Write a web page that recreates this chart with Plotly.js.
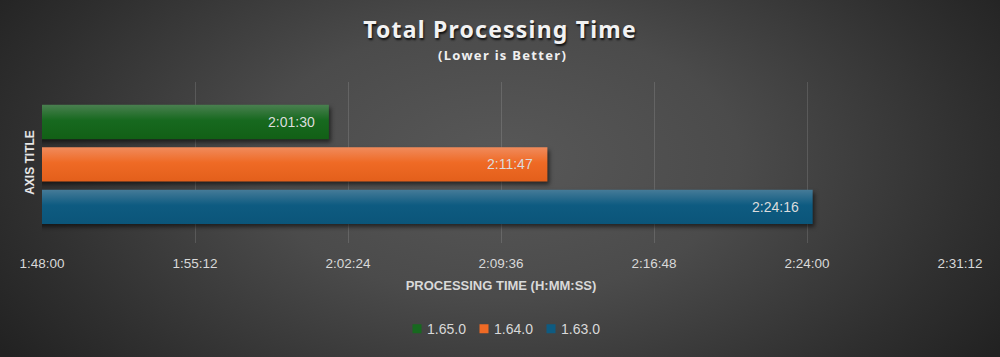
<!DOCTYPE html>
<html>
<head>
<meta charset="utf-8">
<script src="https://cdn.plot.ly/plotly-3.0.1.min.js"></script>
<style>
  html, body { margin: 0; padding: 0; }
  #chart {
    width: 1000px; height: 357px;
    background: radial-gradient(ellipse 60% 95% at 50% 45%, #585858 0%, #4b4b4b 40%, #2f2f2f 80%, #222222 100%);
  }
  #chart text.gtitle { letter-spacing: 1.2px; }
  #chart .barlayer .point path { filter: drop-shadow(2px 3px 2px rgba(0,0,0,0.55)); }
</style>
</head>
<body>
<div id="chart"></div>
<script>
// ---- data ----
const versions = ['1.65.0', '1.64.0', '1.63.0'];
const times = ['2:01:30', '2:11:47', '2:24:16'];
const colors = ['#17691f', '#ef6a25', '#0e5b81'];
const gradTop = ['#4a8050', '#f08b5c', '#467b98'];
const gradBottom = ['#126016', '#e35f1b', '#0b5579'];
const tickLabels = ['1:48:00', '1:55:12', '2:02:24', '2:09:36', '2:16:48', '2:24:00', '2:31:12'];

function toSec(s) {
  const p = s.split(':').map(Number);
  return p[0] * 3600 + p[1] * 60 + p[2];
}
const tickVals = tickLabels.map(toSec);
const font = 'Liberation Sans, Arial, sans-serif';

const traces = versions.map((v, i) => ({
  type: 'bar',
  orientation: 'h',
  name: v,
  y: [v],
  x: [toSec(times[i])],
  marker: { color: colors[i], line: { width: 0 } },
  hoverinfo: 'skip'
}));

const annotations = versions.map((v, i) => ({
  x: toSec(times[i]), y: v, xref: 'x', yref: 'y',
  text: times[i], showarrow: false,
  xanchor: 'right', yanchor: 'middle', xshift: -12,
  font: { family: font, size: 14, color: '#dcdcdc' }
}));
annotations.push({
  xref: 'paper', yref: 'paper', x: 0.5, y: 1.166, xshift: 1,
  xanchor: 'center', yanchor: 'middle', showarrow: false,
  text: '<b>(Lower is Better)</b>',
  font: { family: 'Noto Sans, sans-serif', size: 13, color: '#f0f0f0' }
});

const layout = {
  width: 1000, height: 357,
  paper_bgcolor: 'rgba(0,0,0,0)',
  plot_bgcolor: 'rgba(0,0,0,0)',
  margin: { l: 42, r: 40, t: 82, b: 112 },
  barmode: 'overlay',
  bargap: 0.19,
  showlegend: true,
  title: {
    text: '<b>Total Processing Time</b>',
    font: { family: 'Noto Sans, sans-serif', size: 23, color: '#f2f2f2', shadow: '1px 2px 2px #111' },
    x: 0.5, xanchor: 'center', y: 0.915, yanchor: 'middle'
  },
  annotations: annotations,
  xaxis: {
    range: [tickVals[0], tickVals[tickVals.length - 1]],
    tickvals: tickVals,
    ticktext: tickLabels,
    showgrid: true,
    gridcolor: 'rgba(255,255,255,0.13)',
    gridwidth: 1,
    zeroline: false,
    showline: false,
    ticks: '',
    ticklabelstandoff: 10,
    tickfont: { family: font, size: 13.5, color: '#d9d9d9' },
    title: {
      text: '<b>PROCESSING TIME (H:MM:SS)</b>',
      font: { family: font, size: 13, color: '#d9d9d9' },
      standoff: 11
    },
    fixedrange: true
  },
  yaxis: {
    type: 'category',
    categoryorder: 'array',
    categoryarray: versions,
    autorange: false,
    range: [2.85, -0.94],
    showticklabels: false,
    showgrid: false,
    zeroline: false,
    showline: false,
    ticks: '',
    title: {
      text: '<b>AXIS TITLE</b>',
      font: { family: font, size: 12, color: '#e6e6e6' },
      standoff: 3
    },
    fixedrange: true
  },
  legend: {
    orientation: 'h',
    x: 0.5, xanchor: 'center',
    y: -0.535, yanchor: 'middle',
    font: { family: font, size: 14, color: '#d9d9d9' },
    itemwidth: 30,
    traceorder: 'normal'
  }
};

function parseT(s) {
  const m = /translate\(\s*([-\d.]+)[\s,]+([-\d.]+)\s*\)/.exec(s || '');
  return m ? [+m[1], +m[2]] : [0, 0];
}

Plotly.newPlot('chart', traces, layout, { displayModeBar: false, staticPlot: true }).then(gd => {
  const NS = 'http://www.w3.org/2000/svg';
  const svg = gd.querySelector('svg.main-svg');
  let defs = svg.querySelector('defs');
  if (!defs) { defs = document.createElementNS(NS, 'defs'); svg.insertBefore(defs, svg.firstChild); }
  colors.forEach((c, i) => {
    const g = document.createElementNS(NS, 'linearGradient');
    g.setAttribute('id', 'bargrad' + i);
    g.setAttribute('x1', '0'); g.setAttribute('y1', '0');
    g.setAttribute('x2', '0'); g.setAttribute('y2', '1');
    [[0, gradTop[i]], [0.45, c], [1, gradBottom[i]]].forEach(([o, col]) => {
      const s = document.createElementNS(NS, 'stop');
      s.setAttribute('offset', o); s.setAttribute('stop-color', col);
      g.appendChild(s);
    });
    defs.appendChild(g);
  });
  gd.querySelectorAll('.barlayer .trace').forEach((t, i) => {
    t.querySelectorAll('.point path').forEach(p => { p.style.fill = 'url(#bargrad' + i + ')'; });
  });
  const sub = gd.querySelectorAll('.annotation')[versions.length];
  if (sub) sub.querySelectorAll('text').forEach(t => { t.style.letterSpacing = '1.3px'; });

  // compact legend spacing like the reference
  const leg = gd.querySelector('.legend');
  if (leg) {
    const L = parseT(leg.getAttribute('transform'));
    leg.querySelectorAll('.traces').forEach((t, i) => {
      const T = parseT(t.getAttribute('transform'));
      t.setAttribute('transform', 'translate(' + (417 + 67 * i - L[0] - 20) + ',' + T[1] + ')');
      const txt = t.querySelector('.legendtext');
      if (txt) txt.setAttribute('x', 30);
      t.querySelectorAll('.legendpoints path').forEach(p => {
        p.setAttribute('d', 'M4.5,4.5H-4.5V-4.5H4.5Z');
      });
    });
  }
});
</script>
</body>
</html>
